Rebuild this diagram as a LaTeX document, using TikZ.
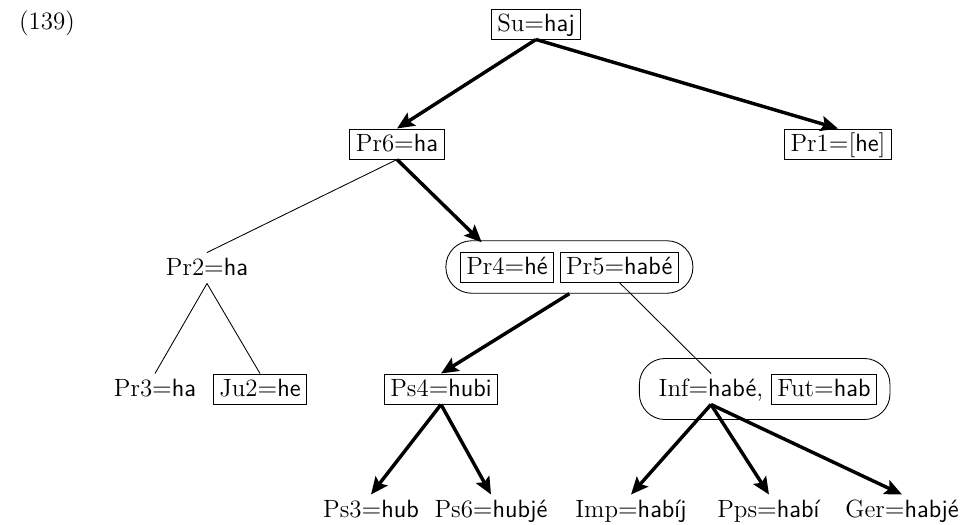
\documentclass[tikz,border=0pt]{standalone}
\usepackage{fontspec}
\usetikzlibrary{arrows.meta,fit,calc,positioning}
\newcommand{\fm}[1]{\textsf{#1}}
\begin{document}
\begin{tikzpicture}[x=0.465pt,y=-0.465pt,
  every node/.style={font=\fontsize{11.6pt}{14pt}\selectfont},
  lab/.style={inner sep=2.8pt,text height=7.9pt,text depth=0.5pt},
  bx/.style={lab,draw,line width=0.4pt},
  thinedge/.style={line width=0.4pt},
  arr/.style={line width=1.6pt,-{Stealth[length=8pt,width=7pt,inset=1.5pt]}},
  grp/.style={draw,rounded corners=12pt,line width=0.4pt}]
\useasboundingbox (0,0) rectangle (967,524);
\node[lab] (num) at (47,22) {(139)};
\node[bx] (su) at (536,24) {Su$=$\fm{haj}};
\node[bx] (pr6) at (397,144) {Pr6$=$\fm{ha}};
\node[bx] (pr1) at (838,144) {Pr1$=$[\fm{he}]};
\node[lab] (pr2) at (207,268) {Pr2$=$\fm{ha}};
\node[bx] (pr4) at (507,267) {Pr4$=$\fm{hé}};
\node[bx,right=2.6pt of pr4] (pr5) {Pr5$=$\fm{habé}};
\node[grp,fit=(pr4)(pr5),inner xsep=6.5pt,inner ysep=5pt] (g1) {};
\node[lab] (pr3) at (155,389) {Pr3$=$\fm{ha}};
\node[bx] (ju2) at (260,389) {Ju2$=$\fm{he}};
\node[bx] (ps4) at (441,389) {Ps4$=$\fm{hubi}};
\node[lab] (inf) at (711,389) {Inf$=$\fm{habé},};
\node[bx,right=0.5pt of inf] (fut) {Fut$=$\fm{hab}};
\node[grp,fit=(inf)(fut),inner xsep=6pt,inner ysep=7pt] (g2) {};
\node[lab] (ps3) at (371,510) {Ps3$=$\fm{hub}};
\node[lab] (ps6) at (491,510) {Ps6$=$\fm{hubjé}};
\node[lab] (imp) at (631,510) {Imp$=$\fm{habíj}};
\node[lab] (pps) at (769,510) {Pps$=$\fm{habí}};
\node[lab] (ger) at (902,510) {Ger$=$\fm{habjé}};
\draw[arr] (su.south) -- (pr6.north);
\draw[arr] (su.south) -- (pr1.north);
\draw[thinedge] (pr6.south) -- (pr2.north);
\draw[arr] (pr6.south) -- ($(pr6.south)!0.77!(pr4.center)$);
\draw[thinedge] (pr2.south) -- (pr3.north);
\draw[thinedge] (pr2.south) -- (ju2.north);
\draw[arr] (g1.south) -- (ps4.north);
\draw[thinedge] (pr5.south) -- (inf.north);
\draw[arr] (ps4.south) -- (ps3.north);
\draw[arr] (ps4.south) -- (ps6.north);
\draw[arr] (inf.south) -- (imp.north);
\draw[arr] (inf.south) -- (pps.north);
\draw[arr] (inf.south) -- (ger.north);
\end{tikzpicture}
\end{document}
